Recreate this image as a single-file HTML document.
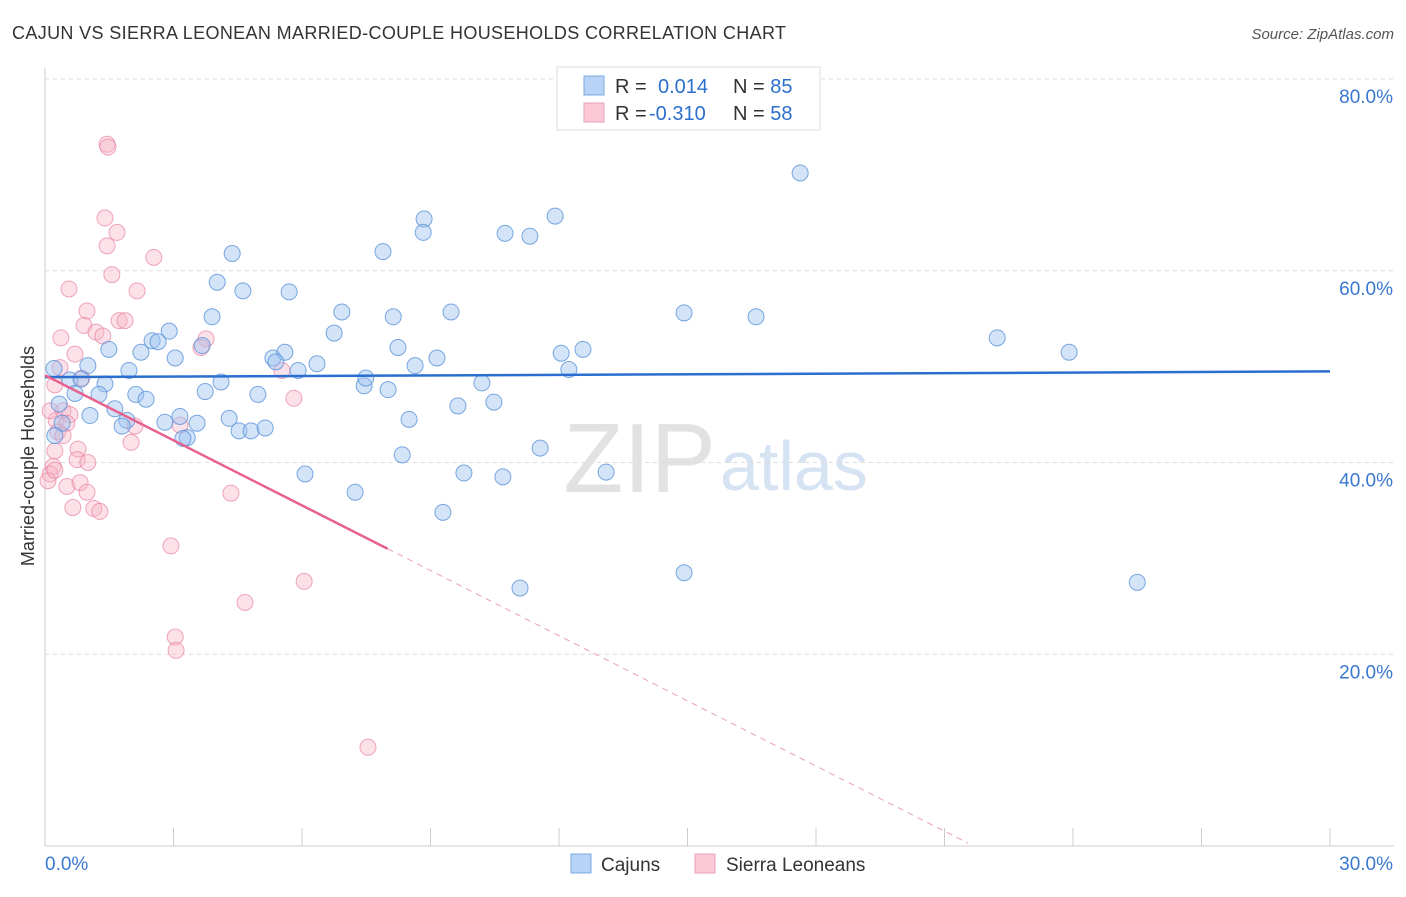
<!DOCTYPE html>
<html><head><meta charset="utf-8"><style>
body{margin:0;background:#fff;font-family:"Liberation Sans",sans-serif;}
svg text{font-family:"Liberation Sans",sans-serif;}
</style></head><body>
<svg id="c" width="1406" height="892" xmlns="http://www.w3.org/2000/svg">
<text x="12" y="39" font-size="18" fill="#333" textLength="774" lengthAdjust="spacing">CAJUN VS SIERRA LEONEAN MARRIED-COUPLE HOUSEHOLDS CORRELATION CHART</text>
<text x="1394" y="39" font-size="15" fill="#555" font-style="italic" text-anchor="end">Source: ZipAtlas.com</text>
<text x="716" y="492" font-size="98" fill="#e2e2e2" font-family="Liberation Serif" text-anchor="end">ZIP</text>
<text x="720" y="490" font-size="70" fill="#d6e3f3">atlas</text>
<text transform="translate(34,456) rotate(-90)" font-size="18" fill="#333" text-anchor="middle">Married-couple Households</text>
<g id="grid"></g><g id="pts"></g><g id="lines"></g>
<rect x="557" y="67" width="263" height="63" fill="#fff" stroke="#ddd"/>
<rect x="584" y="76" width="20" height="19" fill="#b8d3f5" stroke="#7aaae0"/>
<rect x="584" y="103" width="20" height="19" fill="#fcc8d6" stroke="#eaa0b8"/>
<text x="615" y="93" font-size="20" fill="#333">R = <tspan x="658" fill="#2d6fcc">0.014</tspan><tspan x="733" fill="#333">N = </tspan><tspan fill="#2d6fcc">85</tspan></text>
<text x="615" y="120" font-size="20" fill="#333">R = <tspan x="649" fill="#2d6fcc">-0.310</tspan><tspan x="733" fill="#333">N = </tspan><tspan fill="#2d6fcc">58</tspan></text>
<rect x="571" y="854" width="20" height="19" fill="#b8d3f5" stroke="#7aaae0"/>
<text x="601" y="871" font-size="19" fill="#333">Cajuns</text>
<rect x="695" y="854" width="20" height="19" fill="#fcc8d6" stroke="#eaa0b8"/>
<text x="726" y="871" font-size="19" fill="#333">Sierra Leoneans</text>
</svg>
<script>
const xTicks=[0,3,6,9,12,15,18,21,24,27,30];
const yTicks=[20,40,60,80];
const yTickLabels=["20.0%","40.0%","60.0%","80.0%"];
const cajunX=[17.63,11.91,8.85,8.83,10.74,11.32,7.89,4.37,4.02,4.62,5.70,9.48,6.93,8.13,3.90,14.92,16.60,22.23,23.91,2.90,2.50,2.64,1.49,2.24,3.04,3.67,5.32,5.60,6.35,5.39,5.91,6.75,8.24,9.15,8.64,12.05,12.56,12.23,0.21,1.00,1.96,0.58,0.84,1.40,0.70,1.26,2.12,2.36,3.74,4.11,4.97,7.45,7.49,8.01,10.20,10.48,9.64,1.63,1.05,3.15,2.80,3.55,4.30,1.91,1.80,4.53,4.81,5.14,8.50,3.32,3.22,11.56,8.34,9.78,6.07,10.69,13.10,7.24,9.29,14.92,11.09,25.50,0.33,0.40,0.23];
const cajunY=[70.2,65.7,65.4,64.0,63.9,63.6,62.0,61.8,58.8,57.9,57.8,55.7,55.7,55.2,55.2,55.6,55.2,53.0,51.5,53.7,52.7,52.6,51.8,51.5,50.9,52.2,50.9,51.5,50.3,50.5,49.6,53.5,52.0,50.9,50.1,51.4,51.8,49.7,49.8,50.1,49.6,48.6,48.7,48.2,47.2,47.1,47.1,46.6,47.4,48.4,47.1,48.0,48.8,47.6,48.3,46.3,45.9,45.6,44.9,44.8,44.2,44.1,44.6,44.4,43.8,43.3,43.3,43.6,44.5,42.6,42.5,41.5,40.8,38.9,38.8,38.5,39.0,36.9,34.8,28.5,26.9,27.5,46.1,44.1,42.8];
const sierraX=[1.45,1.47,1.40,1.68,1.45,2.54,1.56,0.56,2.15,0.98,0.37,0.91,1.19,1.35,1.73,1.87,3.76,3.64,0.70,0.35,5.53,0.86,5.81,0.23,0.42,0.58,0.26,0.51,0.30,0.42,0.23,0.77,0.75,1.00,0.19,0.12,0.07,0.51,0.82,0.98,0.65,1.14,1.28,2.01,2.10,3.15,4.34,2.94,6.05,4.67,3.04,3.06,7.54,0.12,0.23];
const sierraY=[73.2,72.9,65.5,64.0,62.6,61.4,59.6,58.1,57.9,55.8,53.0,54.3,53.6,53.2,54.8,54.8,52.9,52.0,51.3,49.9,49.6,48.8,46.7,48.1,45.4,45.0,44.4,44.1,43.2,42.8,41.2,41.4,40.3,40.0,39.6,38.8,38.1,37.5,37.9,36.9,35.3,35.2,34.9,42.1,43.8,43.9,36.8,31.3,27.6,25.4,21.8,20.4,10.3,45.4,39.2];
const cajunTrend=[[0,48.9],[30,49.5]];
const sierraTrend=[[0,49.1],[8.0,31.0],[21.55,0.3]];
const NS="http://www.w3.org/2000/svg";
const sx=v=>45+v*(1285/30), sy=v=>846-v*(767/80);
function mk(t,a,p){const e=document.createElementNS(NS,t);for(const k in a)e.setAttribute(k,a[k]);p.appendChild(e);return e;}
const grid=document.getElementById('grid'),pts=document.getElementById('pts'),lines=document.getElementById('lines');
let ax=mk('line',{x1:45,y1:68,x2:45,y2:846,stroke:'#ccc'},grid);


let bx=mk('line',{x1:45,y1:846,x2:1394,y2:846,stroke:'#ccc'},grid);


yTicks.forEach((v,i)=>{
 let g=mk('line',{x1:45,y1:sy(v),x2:1394,y2:sy(v),stroke:'#ddd','stroke-dasharray':'4,4'},grid);
 
 
 let t=mk('text',{x:1393,y:sy(v)+24,'font-size':19,fill:'#3a78d0','text-anchor':'end'},grid);t.textContent=yTickLabels[i];
 
 
});
xTicks.forEach(v=>{
 let l=mk('line',{x1:sx(v),y1:828,x2:sx(v),y2:846,stroke:'#ccc'},grid);
 
 
});
let x0=mk('text',{x:45,y:870,'font-size':19,fill:'#3a78d0'},grid);x0.textContent='0.0%';


let x1=mk('text',{x:1393,y:870,'font-size':19,fill:'#3a78d0','text-anchor':'end'},grid);x1.textContent='30.0%';


sierraX.forEach((v,i)=>{
 let c=mk('circle',{cx:sx(v),cy:sy(sierraY[i]),r:8,fill:'rgba(248,180,200,0.4)',stroke:'rgba(232,130,160,0.7)','stroke-width':1},pts);
 
 
});
cajunX.forEach((v,i)=>{
 let c=mk('circle',{cx:sx(v),cy:sy(cajunY[i]),r:8,fill:'rgba(160,196,240,0.45)',stroke:'rgba(80,140,215,0.75)','stroke-width':1},pts);
 
 
});
let bl=mk('line',{x1:sx(cajunTrend[0][0]),y1:sy(cajunTrend[0][1]),x2:sx(cajunTrend[1][0]),y2:sy(cajunTrend[1][1]),stroke:'#2a6fd0','stroke-width':2.5},lines);


let pl=mk('line',{x1:sx(sierraTrend[0][0]),y1:sy(sierraTrend[0][1]),x2:sx(sierraTrend[1][0]),y2:sy(sierraTrend[1][1]),stroke:'#e8628f','stroke-width':2.5},lines);


let pd=mk('line',{x1:sx(sierraTrend[1][0]),y1:sy(sierraTrend[1][1]),x2:sx(sierraTrend[2][0]),y2:sy(sierraTrend[2][1]),stroke:'#e8a0b8','stroke-width':1,'stroke-dasharray':'6,5'},lines);


</script>
</body></html>
